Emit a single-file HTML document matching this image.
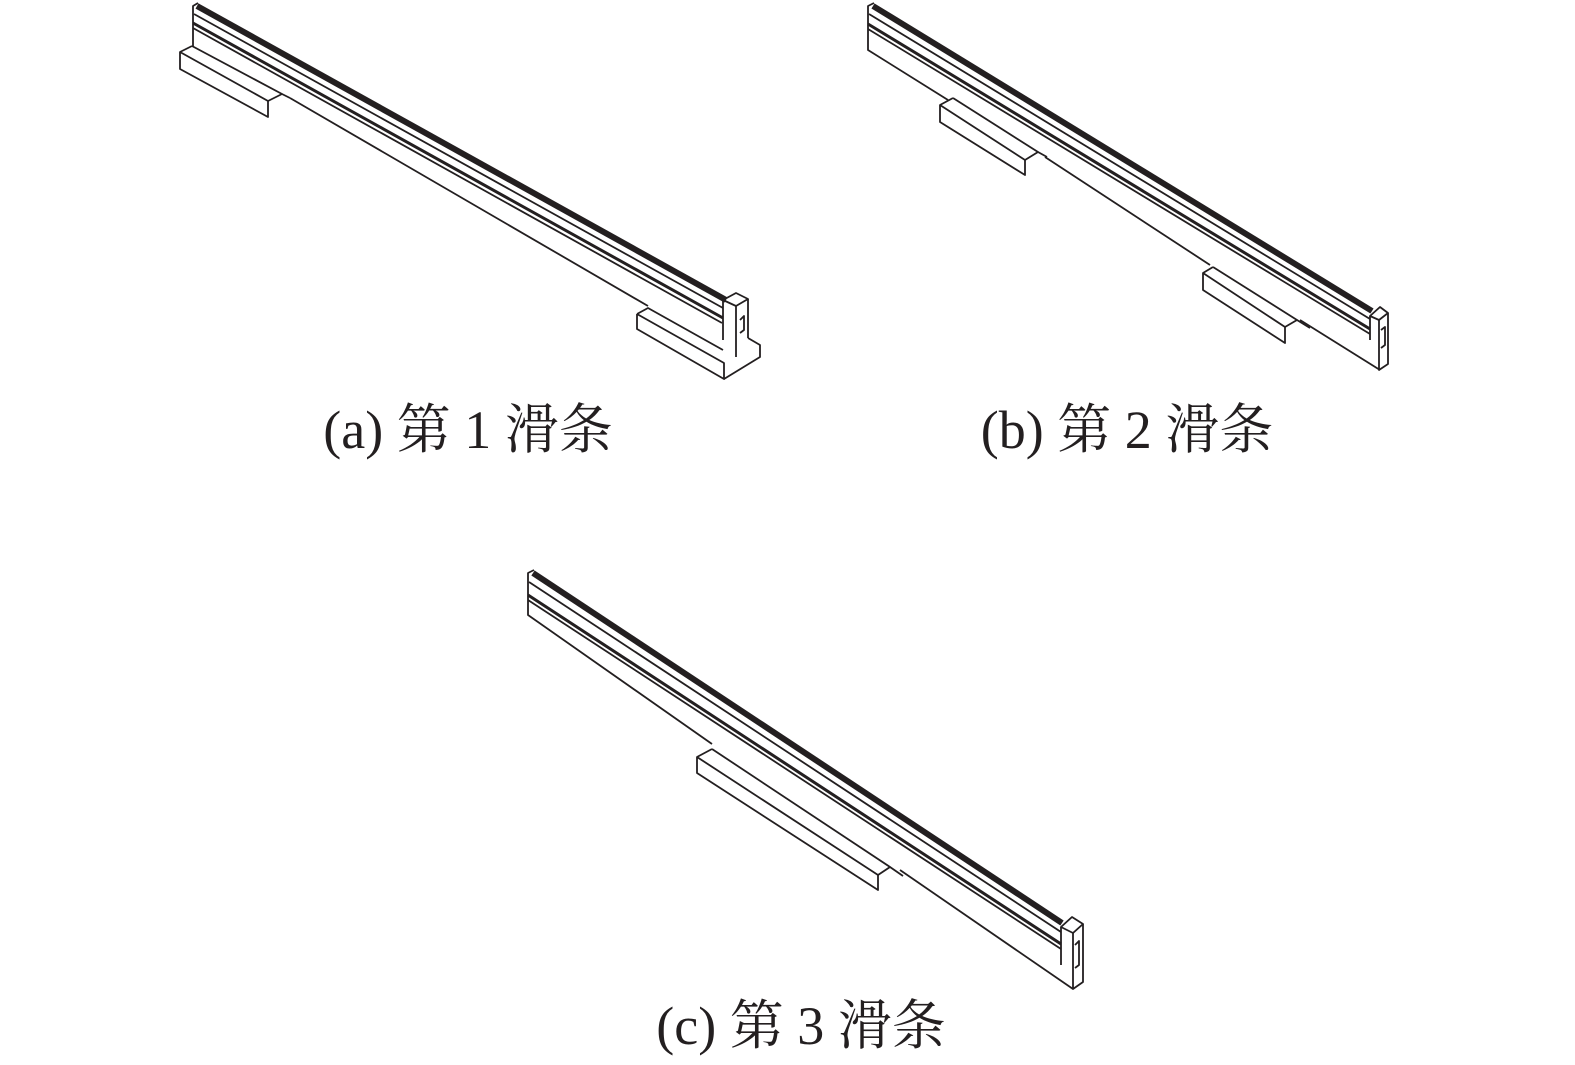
<!DOCTYPE html>
<html><head><meta charset="utf-8"><style>
html,body{margin:0;padding:0;background:#fff}
svg{display:block}
text{font-family:"Liberation Serif","Noto Serif CJK SC",serif;font-size:54px;fill:#231f20}
</style></head><body>
<svg width="1575" height="1065" viewBox="0 0 1575 1065" xmlns="http://www.w3.org/2000/svg">
<g fill="none" stroke="#231f20" stroke-width="1.8" stroke-linejoin="round">
<!-- (a) -->
<line x1="197" y1="6" x2="726" y2="300" stroke-width="6"/>
<line x1="194" y1="14" x2="723" y2="308"/>
<line x1="193" y1="23" x2="723" y2="318" stroke-width="3"/>
<line x1="193" y1="28" x2="722" y2="323"/>
<polyline points="198,3 193,6 193,47"/>
<line x1="290" y1="98" x2="648" y2="306"/>
<polyline points="192,46 180,52 180,69 268,117 268,101 180,52"/>
<line x1="192" y1="46" x2="282" y2="94"/>
<polyline points="268,101 282,94 290,98"/>
<polyline points="637,314 648,308 723,350"/>
<polyline points="637,314 637,329 724,379 724,363 637,314"/>
<polyline points="724,379 760,357 760,345 748,338"/>
<polygon points="723,300 736,293 748,299 736,306"/>
<polyline points="723,300 723,340"/>
<polyline points="736,306 736,357"/>
<polyline points="748,299 748,338"/>
<polyline points="740,320 744,316 744,330 740,333"/>
<!-- (b) -->
<line x1="873" y1="6" x2="1372" y2="311" stroke-width="6"/>
<line x1="869" y1="14" x2="1370" y2="319"/>
<line x1="868" y1="24" x2="1370" y2="329" stroke-width="3"/>
<line x1="868" y1="29" x2="1370" y2="334"/>
<polyline points="874,3 868,6 868,50 948,100"/>
<line x1="1045" y1="157" x2="1210" y2="265"/>
<line x1="1300" y1="320" x2="1380" y2="370"/>
<polyline points="953,98 940,105 940,122 1025,175 1025,160 940,105"/>
<line x1="953" y1="98" x2="1038" y2="152"/>
<polyline points="1025,160 1038,152 1047,157"/>
<polyline points="1213,267 1203,273 1203,290 1285,343 1285,327 1203,273"/>
<line x1="1213" y1="267" x2="1297" y2="320"/>
<polyline points="1285,327 1297,320 1310,328"/>
<polygon points="1370,316 1380,307 1388,313 1379,320"/>
<polyline points="1370,316 1370,340"/>
<polyline points="1379,320 1379,370 1388,364 1388,313"/>
<polyline points="1381,330 1385,327 1385,345 1381,348"/>
<!-- (c) -->
<line x1="533" y1="573" x2="1062" y2="923" stroke-width="6"/>
<line x1="529" y1="582" x2="1061" y2="932"/>
<line x1="528" y1="595" x2="1061" y2="944" stroke-width="3"/>
<line x1="528" y1="600" x2="1061" y2="949"/>
<polyline points="534,570 528,573 528,615 712,744"/>
<line x1="900" y1="870" x2="1073" y2="989"/>
<polyline points="712,749 697,757 697,773 878,890 878,875 697,757"/>
<line x1="712" y1="749" x2="890" y2="867"/>
<polyline points="878,875 890,867 903,876"/>
<polygon points="1061,927 1072,917 1083,924 1073,933"/>
<polyline points="1061,927 1061,965"/>
<polyline points="1073,933 1073,989 1083,982 1083,924"/>
<polyline points="1075,945 1079,941 1079,965 1075,968"/>
</g>
<text x="468" y="448" text-anchor="middle">(a) 第 1 滑条</text>
<text x="1127" y="448" text-anchor="middle">(b) 第 2 滑条</text>
<text x="801" y="1044" text-anchor="middle">(c) 第 3 滑条</text>
</svg>
</body></html>
